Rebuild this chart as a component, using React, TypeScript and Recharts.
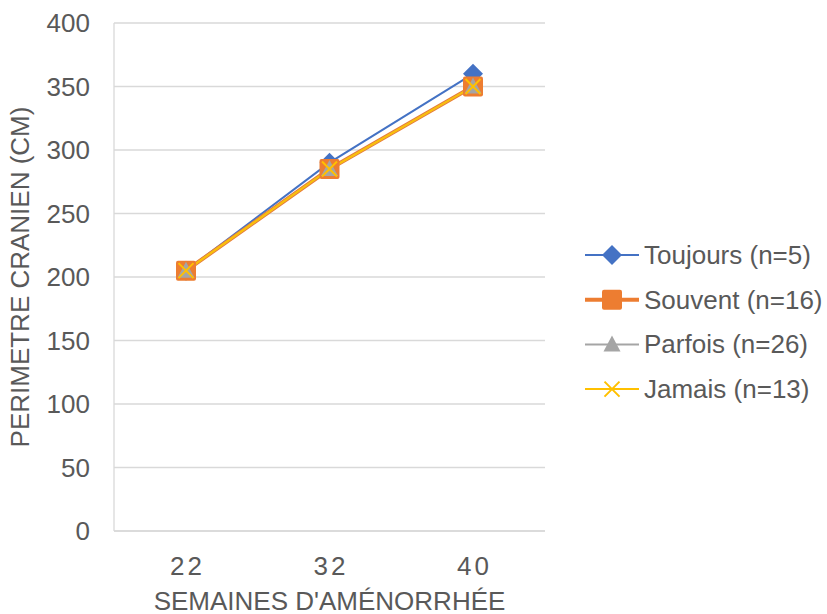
import { LineChart, Line, XAxis, YAxis, CartesianGrid } from "recharts";

const weeks = ["22", "32", "40"];
const toujours = [205, 290, 360];
const souvent = [205, 285, 350];
const parfois = [205, 285, 350];
const jamais = [205, 285, 350];
const yTicks = [0, 50, 100, 150, 200, 250, 300, 350, 400];

const SERIES = [
  { key: "toujours", name: "Toujours (n=5)", color: "#4472C4", width: 2, shape: "diamond" },
  { key: "souvent", name: "Souvent (n=16)", color: "#ED7D31", width: 4, shape: "square" },
  { key: "parfois", name: "Parfois (n=26)", color: "#A5A5A5", width: 2, shape: "triangle" },
  { key: "jamais", name: "Jamais (n=13)", color: "#FFC000", width: 2, shape: "cross" },
];

const data = weeks.map((w, i) => ({
  week: w,
  toujours: toujours[i],
  souvent: souvent[i],
  parfois: parfois[i],
  jamais: jamais[i],
}));

const TEXT = "#595959";
const FONT = "'Liberation Sans', Arial, sans-serif";
const FS = 26;

function marker(shape: string, cx: number, cy: number, color: string, key?: string) {
  if (shape === "diamond") {
    return <path key={key} d={`M${cx},${cy - 10} L${cx + 10},${cy} L${cx},${cy + 10} L${cx - 10},${cy} Z`} fill={color} />;
  }
  if (shape === "square") {
    return <rect key={key} x={cx - 10} y={cy - 10} width={20} height={20} rx={2} fill={color} />;
  }
  if (shape === "triangle") {
    return <path key={key} d={`M${cx},${cy - 9} L${cx + 8.5},${cy + 7} L${cx - 8.5},${cy + 7} Z`} fill={color} />;
  }
  return (
    <path key={key} d={`M${cx - 7.5},${cy - 7.5} L${cx + 7.5},${cy + 7.5} M${cx + 7.5},${cy - 7.5} L${cx - 7.5},${cy + 7.5}`} stroke={color} strokeWidth={2} fill="none" />
  );
}

const XTick = (props: any) => {
  const { x, payload } = props;
  return (
    <text x={x} y={575} textAnchor="middle" fill={TEXT} fontSize={FS} letterSpacing={3} dx={1.5} fontFamily={FONT}>
      {payload.value}
    </text>
  );
};

function ChartLegend() {
  return (
    <svg width={247} height={180} style={{ position: "absolute", left: 580, top: 232, fontFamily: FONT }}>
      {SERIES.map((s, i) => {
        const cy = 23 + i * 44.7;
        return (
          <g key={s.key}>
            <line x1={5} x2={59} y1={cy} y2={cy} stroke={s.color} strokeWidth={s.width} />
            {marker(s.shape, 32, cy, s.color)}
            <text x={64} y={cy + 9} fontSize={FS} fill={TEXT}>
              {s.name}
            </text>
          </g>
        );
      })}
    </svg>
  );
}

export default function App() {
  return (
    <div style={{ position: "absolute", left: 0, top: 0, width: 827, height: 614, background: "#fff", fontFamily: FONT }}>
      <LineChart width={827} height={614} data={data} margin={{ top: 23, right: 282, bottom: 0, left: 0 }}>
        <CartesianGrid vertical={false} stroke="#D9D9D9" strokeWidth={1.3} />
        <XAxis
          dataKey="week"
          height={83}
          padding={{ left: 72, right: 72 }}
          axisLine={{ stroke: "#D9D9D9", strokeWidth: 1.3 }}
          tickLine={false}
          tick={<XTick />}
          label={{ value: "SEMAINES D'AMÉNORRHÉE", position: "insideBottom", offset: 4, fill: TEXT, fontSize: FS, fontFamily: FONT }}
        />
        <YAxis
          width={114}
          domain={[0, 400]}
          ticks={yTicks}
          axisLine={{ stroke: "#D9D9D9", strokeWidth: 1.3 }}
          tickLine={false}
          tickMargin={18}
          tick={{ fill: TEXT, fontSize: FS, fontFamily: FONT }}
          label={{ value: "PERIMETRE CRANIEN (CM)", angle: -90, position: "insideLeft", offset: 20, style: { textAnchor: "middle" }, fill: TEXT, fontSize: FS, fontFamily: FONT }}
        />
        {SERIES.map((s) => (
          <Line
            key={s.key}
            dataKey={s.key}
            name={s.name}
            stroke={s.color}
            strokeWidth={s.width}
            isAnimationActive={false}
            dot={(p: any) => marker(s.shape, p.cx, p.cy, s.color, `${s.key}-${p.index}`)}
            activeDot={false}
          />
        ))}
      </LineChart>
      <ChartLegend />
    </div>
  );
}
